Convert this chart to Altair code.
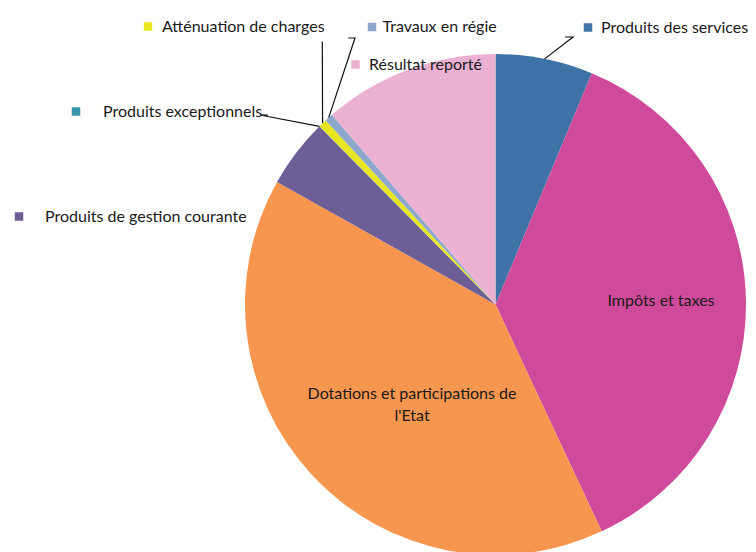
import altair as alt
import pandas as pd
import numpy as np

# ---- data ----
categories = ["Produits des services", "Impôts et taxes", "Dotations et participations de l'Etat",
              "Produits de gestion courante", "Produits exceptionnels", "Atténuation de charges",
              "Travaux en régie", "Résultat reporté"]
values = [6.28, 36.75, 40.11, 4.44, 0.03, 0.53, 0.53, 11.33]
colors = ["#3F72A6", "#CF4A9B", "#F7964F", "#6E5E98", "#3A97A9", "#E8E620", "#8EA8CD", "#EBB1D2"]

# ---- layout ----
W, H = 740, 544
CX, CY, R = 487.5, 296.5, 250.5
FONT = "Lato"
FS = 16

# inside labels (chart pixel positions)
inner_cats = ["Impôts et taxes", "Dotations et participations de l'Etat"]
inner_text = ["Impôts et taxes", "Dotations et participations de\nl'Etat"]
inner_x = [653, 404]
inner_y = [293, 386]

# outside labels: key square centre and text start
outer_cats = ["Produits des services", "Travaux en régie", "Atténuation de charges",
              "Résultat reporté", "Produits exceptionnels", "Produits de gestion courante"]
outer_key_x = [580, 364, 140, 347.5, 68, 11]
outer_key_y = [19.5, 19, 18.5, 56.5, 103.5, 208.5]
outer_txt_x = [593, 374.5, 154, 361, 95, 37]
outer_txt_y = [19.5, 19, 18.5, 57, 103.5, 208.5]

# leader lines: label-side points (the slice end is computed from the data)
leader_cats = ["Produits des services", "Travaux en régie", "Atténuation de charges", "Produits exceptionnels"]
leader_pts = [
    [(565, 29), (557, 29)],
    [(347, 30), (340.3, 30)],
    [(314.3, 33.5)],
    [(252, 107), (260, 107)],
]

df = pd.DataFrame({"cat": categories, "value": values, "idx": range(len(values))})
total = sum(values)
cum = np.cumsum(values)
mid = (cum - np.array(values) / 2) / total * 2 * np.pi
mid_by_cat = dict(zip(categories, mid))

rows = []
for i, (c, pts) in enumerate(zip(leader_cats, leader_pts)):
    a = mid_by_cat[c]
    sx = CX + R * np.sin(a)
    sy = CY - R * np.cos(a)
    seq = [(sx, sy)] + pts
    for j, (x, y) in enumerate(seq):
        rows.append({"lid": i, "seq": j, "x": x, "y": y})
lines_df = pd.DataFrame(rows)

color_scale = alt.Scale(domain=categories, range=colors)

pie = alt.Chart(df).mark_arc(outerRadius=R).encode(
    theta=alt.Theta("value:Q", stack=True),
    order=alt.Order("idx:Q"),
    color=alt.Color("cat:N", scale=color_scale, legend=None),
    x=alt.value(CX),
    y=alt.value(CY),
)

inner_df = pd.DataFrame({"cat": inner_cats, "t": inner_text, "x": inner_x, "y": inner_y})
inner = alt.Chart(inner_df).mark_text(
    font=FONT, fontSize=FS, color="#1a1a1a", align="center", baseline="middle",
    lineBreak="\n", lineHeight=22
).encode(
    x=alt.X("x:Q", scale=None), y=alt.Y("y:Q", scale=None), text="t:N"
)

outer_df = pd.DataFrame({"cat": outer_cats, "kx": outer_key_x, "ky": outer_key_y,
                         "tx": outer_txt_x, "ty": outer_txt_y})
keys = alt.Chart(outer_df).mark_point(shape="square", filled=True, size=72, opacity=1).encode(
    x=alt.X("kx:Q", scale=None), y=alt.Y("ky:Q", scale=None),
    color=alt.Color("cat:N", scale=color_scale, legend=None),
)
outer = alt.Chart(outer_df).mark_text(
    font=FONT, fontSize=FS, color="#1a1a1a", align="left", baseline="middle"
).encode(
    x=alt.X("tx:Q", scale=None), y=alt.Y("ty:Q", scale=None), text="cat:N"
)

leaders = alt.Chart(lines_df).mark_line(color="#111111", strokeWidth=1.2).encode(
    x=alt.X("x:Q", scale=None), y=alt.Y("y:Q", scale=None),
    detail="lid:N", order="seq:Q",
)

chart = alt.layer(pie, leaders, inner, keys, outer).properties(
    width=W, height=H, padding=0, autosize=alt.AutoSizeParams(type="none")
).configure_view(stroke=None)

chart.save("out.html", embed_options={"renderer": "svg", "actions": False})
